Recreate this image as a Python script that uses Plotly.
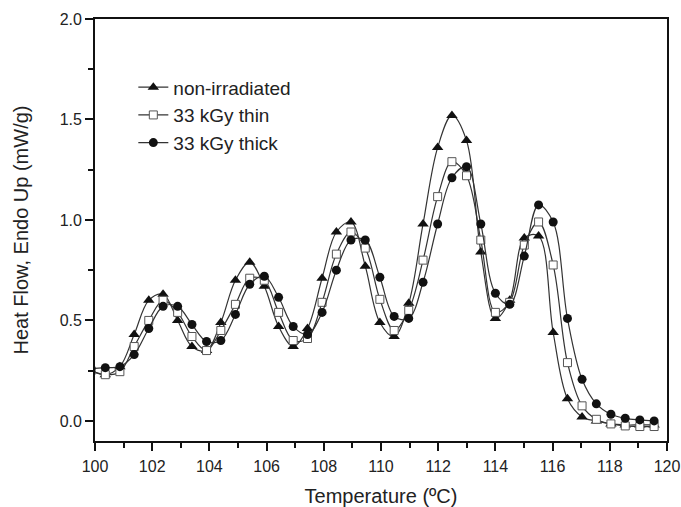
import plotly.graph_objects as go

# Temperature sample points (°C) shared by the three series
temperature = [99.86, 100.36, 100.87, 101.37, 101.88, 102.38, 102.89, 103.39, 103.90,
               104.40, 104.91, 105.41, 105.92, 106.42, 106.93, 107.43, 107.94,
               108.44, 108.95, 109.45, 109.96, 110.46, 110.97, 111.47, 111.98,
               112.48, 112.99, 113.49, 114.00, 114.50, 115.01, 115.51, 116.02,
               116.52, 117.03, 117.53, 118.04, 118.54, 119.05, 119.55]

non_irradiated = [0.25, 0.23, 0.27, 0.43, 0.60, 0.63, 0.50, 0.37, 0.35,
                  0.49, 0.70, 0.79, 0.67, 0.47, 0.37, 0.46, 0.71,
                  0.94, 0.99, 0.77, 0.49, 0.42, 0.585, 0.98, 1.36,
                  1.52, 1.395, 0.84, 0.51, 0.60, 0.91, 0.92, 0.44,
                  0.11, 0.02, 0.0, -0.015, -0.02, -0.02, -0.02]

kgy33_thin = [0.25, 0.23, 0.245, 0.37, 0.50, 0.60, 0.54, 0.42, 0.35,
              0.45, 0.58, 0.71, 0.70, 0.54, 0.40, 0.41, 0.59,
              0.83, 0.94, 0.86, 0.605, 0.45, 0.55, 0.80, 1.116,
              1.29, 1.22, 0.90, 0.54, 0.59, 0.875, 0.99, 0.776,
              0.29, 0.075, 0.008, -0.015, -0.025, -0.028, -0.028]

kgy33_thick = [0.26, 0.265, 0.27, 0.33, 0.46, 0.57, 0.57, 0.48, 0.395,
               0.40, 0.53, 0.68, 0.72, 0.615, 0.47, 0.43, 0.54,
               0.75, 0.90, 0.90, 0.715, 0.52, 0.51, 0.69, 0.98,
               1.21, 1.265, 0.98, 0.635, 0.58, 0.82, 1.075, 0.99,
               0.51, 0.207, 0.085, 0.033, 0.013, 0.005, 0.0]

series_names = ["non-irradiated", "33 kGy thin", "33 kGy thick"]
x_ticks = [100, 102, 104, 106, 108, 110, 112, 114, 116, 118, 120]
y_ticks = [0.0, 0.5, 1.0, 1.5, 2.0]
y_tick_text = ["0.0", "0.5", "1.0", "1.5", "2.0"]

FONT = "Liberation Sans, Arial, sans-serif"
TXT = "#222222"

styles = [
    dict(symbol="triangle-up", size=10, color="#111111", line=dict(width=0)),
    dict(symbol="square", size=8, color="white", line=dict(color="#555555", width=1)),
    dict(symbol="circle", size=9, color="#111111", line=dict(width=0)),
]

fig = go.Figure()
for i, (name, vals) in enumerate(zip(series_names, [non_irradiated, kgy33_thin, kgy33_thick])):
    fig.add_trace(go.Scatter(
        x=temperature, y=vals, name=name, mode="lines+markers",
        line=dict(color="#333333", width=1.2, shape="spline", smoothing=1.0),
        marker=styles[i], legendgroup=f"g{i}", cliponaxis=True,
    ))

fig.update_layout(
    template="none",
    width=681, height=507,
    margin=dict(l=95, r=14, t=19, b=66, autoexpand=False),
    paper_bgcolor="white", plot_bgcolor="white",
    font=dict(family=FONT, color=TXT, size=16),
    showlegend=True,
    legend=dict(x=0.067, y=0.883, xanchor="left", yanchor="top",
                font=dict(family=FONT, size=19, color=TXT),
                bgcolor="rgba(0,0,0,0)", traceorder="grouped", tracegroupgap=0),
    xaxis=dict(
        range=[100, 120], tickmode="array", tickvals=x_ticks, automargin=False,
        ticks="outside", ticklen=8, tickwidth=1.5, tickcolor="#111",
        showline=True, linecolor="#111", linewidth=1.8, mirror=True,
        showgrid=False, zeroline=False, ticklabelstandoff=2,
        ticklabeloverflow="allow",
        tickfont=dict(size=16, color=TXT),
        minor=dict(dtick=1, ticks="outside", ticklen=5, tickwidth=1.5, tickcolor="#111", showgrid=False),
        title=dict(text="Temperature (ºC)", font=dict(size=20, color=TXT), standoff=18),
    ),
    yaxis=dict(
        range=[-0.1, 2.0], tickmode="array", tickvals=y_ticks, ticktext=y_tick_text, automargin=False,
        ticks="outside", ticklen=8, tickwidth=1.5, tickcolor="#111",
        showline=True, linecolor="#111", linewidth=1.8, mirror=True,
        showgrid=False, zeroline=False,
        tickfont=dict(size=16, color=TXT),
        minor=dict(dtick=0.25, tick0=0, ticks="outside", ticklen=5, tickwidth=1.5, tickcolor="#111", showgrid=False),
        title=dict(text="Heat Flow, Endo Up (mW/g)", font=dict(size=20, color=TXT), standoff=26),
    ),
)

fig.write_html("out.html", config={"displayModeBar": False},
               post_script="document.body.style.margin='0';document.body.style.overflow='hidden';")
